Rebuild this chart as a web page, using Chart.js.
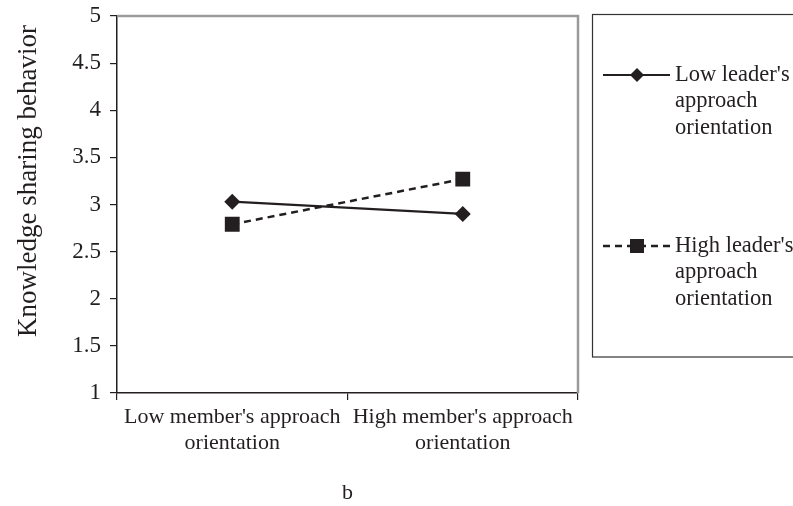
<!DOCTYPE html>
<html>
<head>
<meta charset="utf-8">
<script src="https://cdn.jsdelivr.net/npm/chart.js@4.4.0/dist/chart.umd.min.js"></script>
<style>
html,body{margin:0;padding:0;background:#fff;}
#wrap{width:793px;height:506px;position:relative;}
</style>
</head>
<body>
<div id="wrap"><canvas id="c" width="793" height="506"></canvas></div>
<script>
const categories = [["Low member's approach", "orientation"], ["High member's approach", "orientation"]];
const seriesNames = [["Low leader's", "approach", "orientation"], ["High leader's", "approach", "orientation"]];
const lowLeader = [3.03, 2.90];
const highLeader = [2.79, 3.27];
const yTicks = [1, 1.5, 2, 2.5, 3, 3.5, 4, 4.5, 5];
const yTitle = "Knowledge sharing behavior";
const panelLabel = "b";

const FONT = "'Liberation Serif', 'Times New Roman', serif";

const decor = {
  id: 'decor',
  beforeDatasetsDraw(chart) {
    const {ctx, chartArea: a} = chart;
    ctx.save();
    ctx.strokeStyle = '#9a9a9a';
    ctx.lineWidth = 2.5;
    ctx.beginPath();
    ctx.moveTo(a.left, a.top);
    ctx.lineTo(a.right, a.top);
    ctx.lineTo(a.right, a.bottom);
    ctx.stroke();
    ctx.restore();
  },
  afterDraw(chart) {
    const {ctx} = chart;
    ctx.save();
    ctx.fillStyle = '#231f20';
    ctx.font = '27px ' + FONT;
    ctx.translate(29, 181);
    ctx.rotate(-Math.PI / 2);
    ctx.textAlign = 'center';
    ctx.textBaseline = 'middle';
    ctx.fillText(yTitle, 0, 0);
    ctx.restore();

    ctx.save();
    ctx.strokeStyle = '#333';
    ctx.lineWidth = 1.2;
    ctx.strokeRect(592.5, 14.5, 220, 342.5);
    const ys = [75, 246];
    chart.data.datasets.forEach((ds, i) => {
      const y = ys[i];
      ctx.strokeStyle = ds.borderColor;
      ctx.lineWidth = ds.borderWidth;
      ctx.setLineDash(ds.borderDash || []);
      ctx.beginPath();
      ctx.moveTo(603, y);
      ctx.lineTo(670, y);
      ctx.stroke();
      ctx.setLineDash([]);
      ctx.fillStyle = '#231f20';
      if (ds.pointStyle === 'rectRot') {
        const r = 7;
        ctx.beginPath();
        ctx.moveTo(637, y - r); ctx.lineTo(637 + r, y); ctx.lineTo(637, y + r); ctx.lineTo(637 - r, y); ctx.closePath();
        ctx.fill();
      } else {
        ctx.fillRect(637 - 7, y - 7, 14, 14);
      }
      ctx.font = '22.5px ' + FONT;
      ctx.textAlign = 'left';
      ctx.textBaseline = 'middle';
      seriesNames[i].forEach((t, k) => ctx.fillText(t, 675, y + k * 26.5));
    });
    ctx.restore();
  }
};

new Chart(document.getElementById('c'), {
  type: 'line',
  data: {
    labels: categories,
    datasets: [
      {
        label: seriesNames[0].join(' '),
        data: lowLeader,
        borderColor: '#231f20',
        backgroundColor: '#231f20',
        borderWidth: 2.2,
        pointStyle: 'rectRot',
        pointRadius: 8,
        pointBorderWidth: 0,
        tension: 0
      },
      {
        label: seriesNames[1].join(' '),
        data: highLeader,
        borderColor: '#231f20',
        backgroundColor: '#231f20',
        borderWidth: 2.5,
        borderDash: [7, 5],
        pointStyle: 'rect',
        pointRadius: 10.5,
        pointBorderWidth: 0,
        tension: 0
      }
    ]
  },
  options: {
    responsive: false,
    animation: false,
    devicePixelRatio: 1,
    layout: { padding: { top: 16, right: 215, left: 0, bottom: 0 } },
    plugins: { legend: { display: false }, tooltip: { enabled: false } },
    scales: {
      x: {
        type: 'category',
        offset: true,
        border: { color: '#231f20', width: 1.5 },
        grid: { offset: true, drawOnChartArea: false, drawTicks: true, tickLength: 7, color: '#231f20', lineWidth: 1.2 },
        ticks: { color: '#231f20', font: { family: FONT, size: 22 }, maxRotation: 0, minRotation: 0, autoSkip: false, padding: 4 },
        title: { display: true, text: panelLabel, color: '#231f20', font: { family: FONT, size: 22 }, padding: { top: 26, bottom: 0 } },
        afterFit(s) { s.height = 113; s.paddingLeft = 0; s.paddingRight = 0; }
      },
      y: {
        min: 1, max: 5,
        afterBuildTicks(s) { s.ticks = yTicks.map(v => ({ value: v })); },
        border: { color: '#231f20', width: 1.5 },
        grid: { drawOnChartArea: false, drawTicks: true, tickLength: 7, color: '#231f20', lineWidth: 1.2 },
        ticks: { color: '#231f20', font: { family: FONT, size: 23 }, padding: 9, callback: v => String(v) },
        afterFit(s) { s.width = 117; s.paddingTop = 0; s.paddingBottom = 0; }
      }
    }
  },
  plugins: [decor]
});
</script>
</body>
</html>
